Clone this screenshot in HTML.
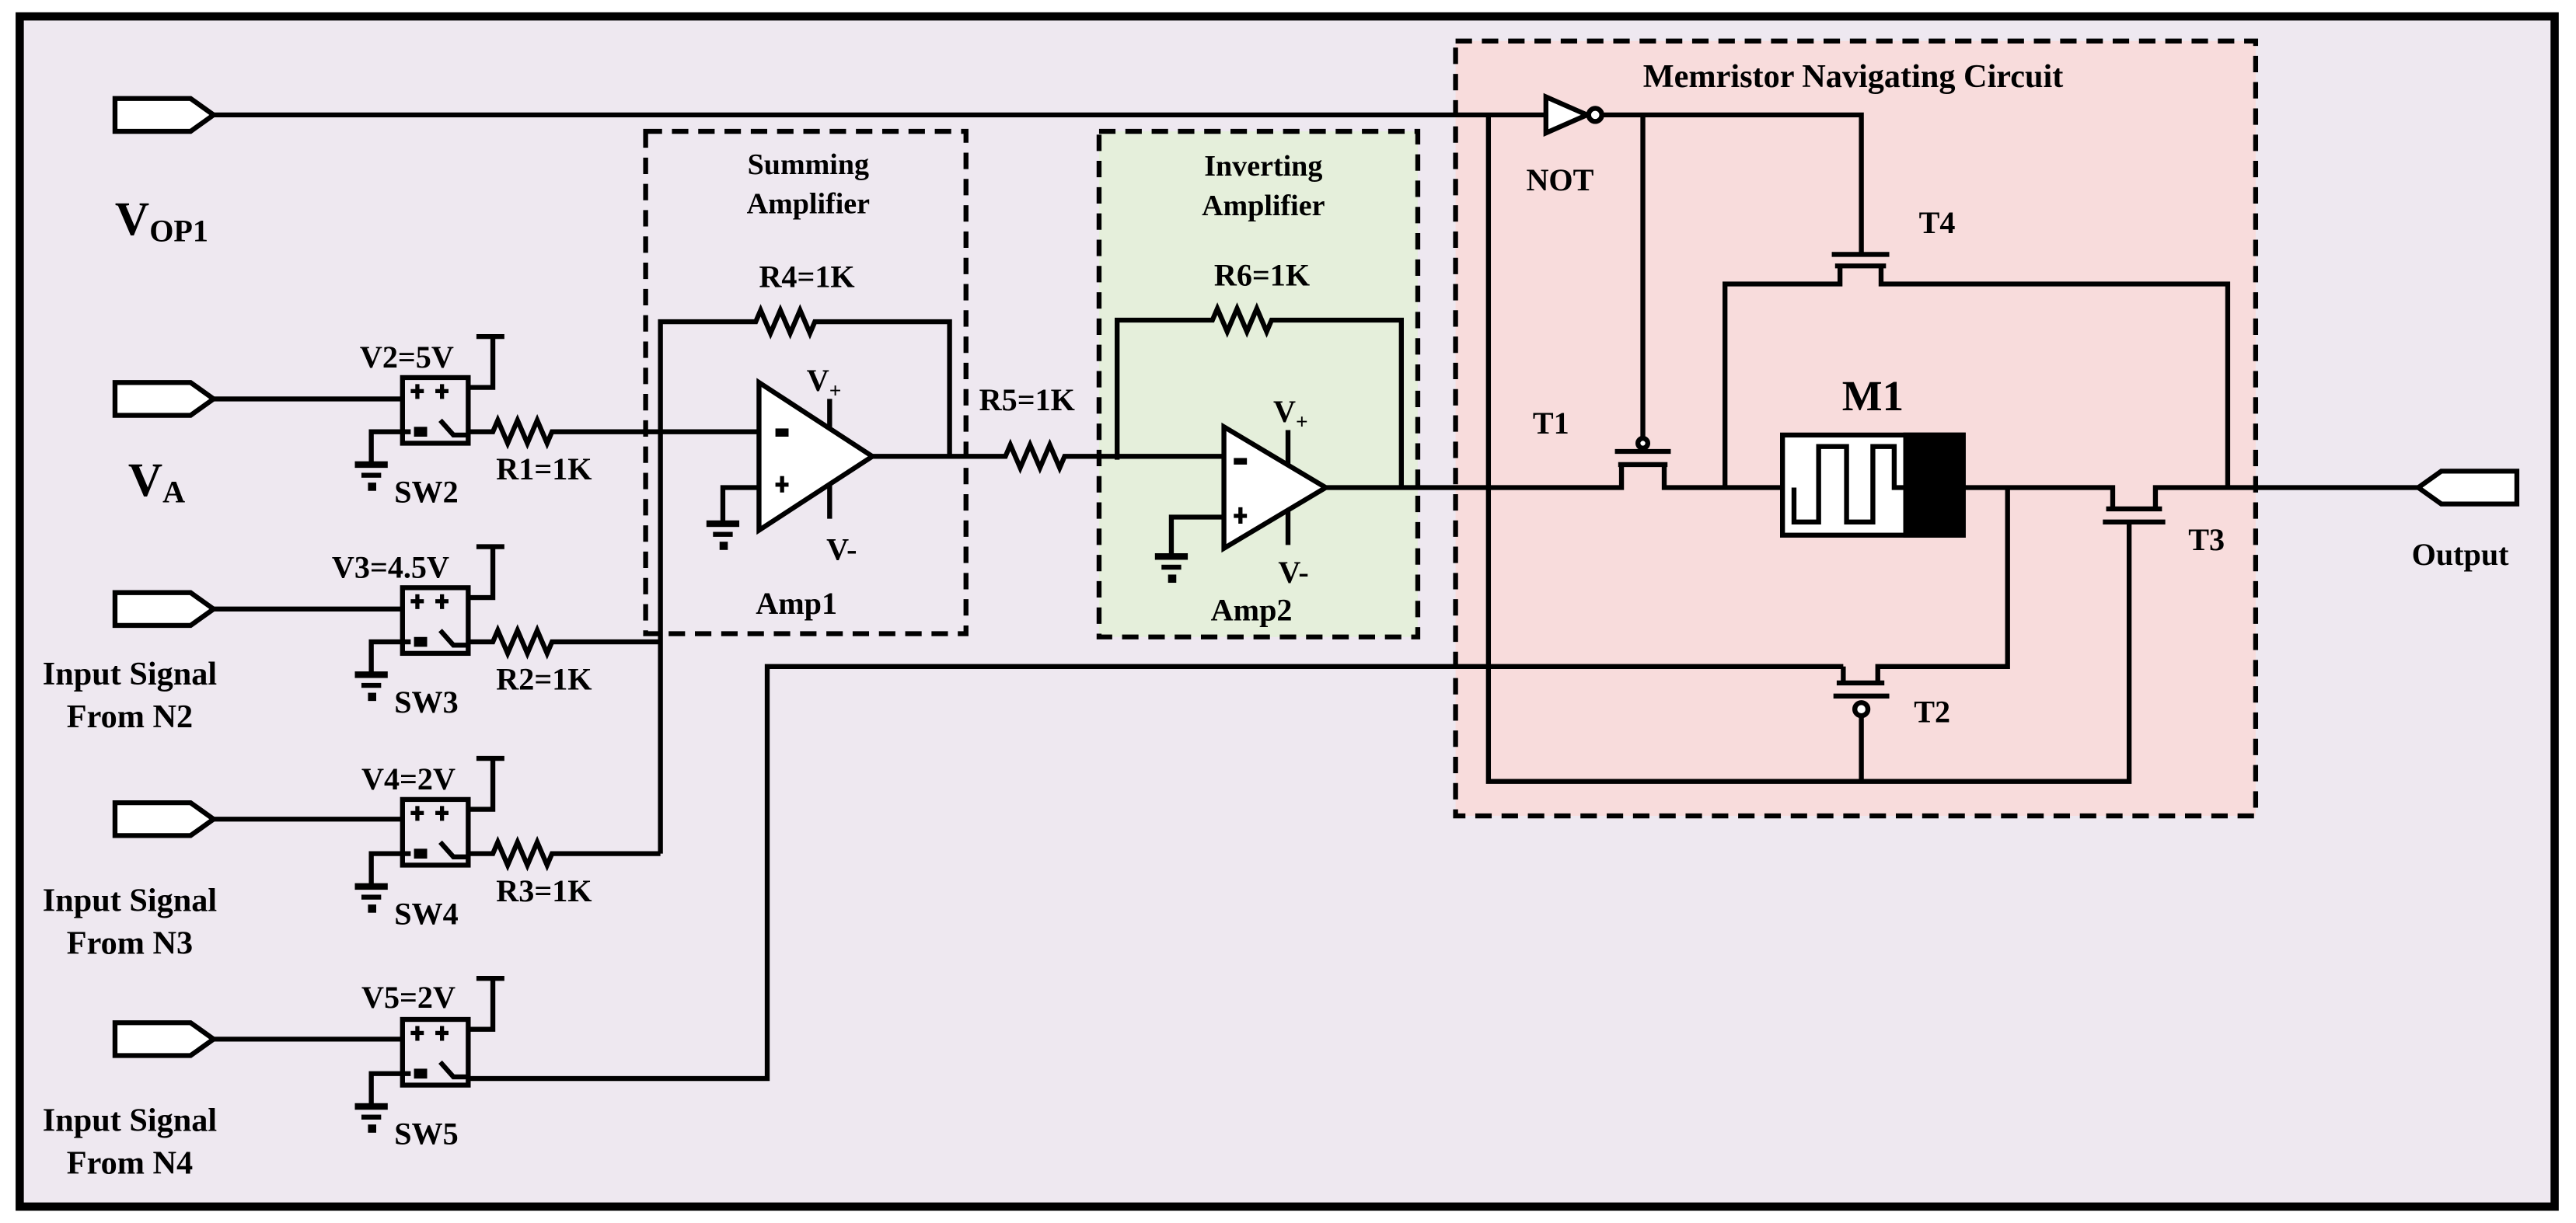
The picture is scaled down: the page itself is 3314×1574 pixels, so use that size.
<!DOCTYPE html>
<html><head><meta charset="utf-8"><style>
html,body{margin:0;padding:0;background:#fff;}
svg{display:block;}
text{font-family:"Liberation Serif",serif;font-weight:bold;fill:#000;}
</style></head><body>
<svg width="3314" height="1574" viewBox="0 0 1568 745" preserveAspectRatio="none" xmlns="http://www.w3.org/2000/svg">
<rect x="12" y="10" width="1543" height="725" fill="#eee8f0" stroke="#000" stroke-width="5"/>
<rect x="669" y="80" width="194" height="308" fill="#e5efdb" stroke="#000" stroke-width="3" stroke-dasharray="10,6"/>
<rect x="886" y="25" width="487" height="472" fill="#f8dcdc" stroke="#000" stroke-width="3" stroke-dasharray="10,6"/>
<rect x="393" y="80" width="195" height="306" fill="none" stroke="#000" stroke-width="3" stroke-dasharray="10,6"/>

<g fill="none" stroke="#000" stroke-width="3">
<path d="M70,60 H116 L130,70 L116,80 H70 Z" fill="#fff"/>
<path d="M70,233 H116 L130,243 L116,253 H70 Z" fill="#fff"/>
<path d="M70,361 H116 L130,371 L116,381 H70 Z" fill="#fff"/>
<path d="M70,489 H116 L130,499 L116,509 H70 Z" fill="#fff"/>
<path d="M70,623 H116 L130,633 L116,643 H70 Z" fill="#fff"/>
<path d="M1532,287 H1486 L1472,297 L1486,307 H1532 Z" fill="#fff"/>

<path d="M130,70 H940"/>
<path d="M941,59 L966,70 L941,81 Z" fill="#fff"/>
<circle cx="971" cy="70" r="4" fill="#fff"/>
<path d="M975,70 H1133 V155"/>
<path d="M1000,70 V270"/>
<path d="M906,70 V476 H1296 V318"/>
<path d="M1133,476 V436"/>

<path d="M130,243 H245 M130,371 H245 M130,499 H245 M130,633 H245"/>

<rect x="245" y="230" width="40" height="40"/>
<rect x="245" y="358" width="40" height="40"/>
<rect x="245" y="487" width="40" height="40"/>
<rect x="245" y="621" width="40" height="40"/>

<path d="M285,236 H300 V205 M290,205 H307"/>
<path d="M285,364 H300 V333 M290,333 H307"/>
<path d="M285,493 H300 V462 M290,462 H307"/>
<path d="M285,627 H300 V596 M290,596 H307"/>

<path d="M250,263 H226 V282"/>
<path d="M250,391 H226 V410"/>
<path d="M250,520 H226 V539"/>
<path d="M250,654 H226 V673"/>

<path d="M268,256 L276,265 H285 M268,384 L276,393 H285 M268,513 L276,522 H285 M268,647 L276,656 H285"/>

<path d="M285,263 H300 l3,-7 l6,14 l6,-14 l6,14 l6,-14 l6,14 l3,-7 H462"/>
<path d="M285,391 H300 l3,-7 l6,14 l6,-14 l6,14 l6,-14 l6,14 l3,-7 H402"/>
<path d="M285,520 H300 l3,-7 l6,14 l6,-14 l6,14 l6,-14 l6,14 l3,-7 H402"/>
<path d="M285,657 H467 V406 H1122"/>
<path d="M402,520 V196 H460 l3,-7 l6,14 l6,-14 l6,14 l6,-14 l6,14 l3,-7 H578 V278"/>

<path d="M462,233 L531,278 L462,323 Z" fill="#fff"/>
<path d="M505,243 V261 M505,295 V316"/>
<path d="M462,297 H440 V318"/>
<path d="M531,278 H612 l3,-7 l6,14 l6,-14 l6,14 l6,-14 l6,14 l3,-7 H745"/>
<path d="M680,280 V195 H738 l3,-7 l6,14 l6,-14 l6,14 l6,-14 l6,14 l3,-7 H853 V297"/>

<path d="M745,260 L807,297 L745,334 Z" fill="#fff"/>
<path d="M784,262 V283 M784,311 V332"/>
<path d="M745,315 H713 V338"/>
<path d="M807,297 H987 V283 M1013,283 V297 H1085"/>

<path d="M985,283 H1015 M983,275 H1017"/>
<path d="M1050,297 V173 H1120 V162 M1145,162 V173 H1356 V297"/>
<path d="M1117,162 H1148 M1115,155 H1150"/>
<rect x="1085" y="265" width="110" height="61" fill="#fff"/>
<rect x="1160" y="265" width="35" height="61" fill="#000"/>
<path d="M1092,297 V318 H1107 V272 H1124 V318 H1140 V272 H1153 V297 H1160"/>
<path d="M1195,297 H1286 V310 M1312,310 V297 H1472"/>
<path d="M1282,310 H1316 M1280,318 H1318"/>
<path d="M1222,297 V406 H1143 V416 M1122,406 V416"/>
<path d="M1118,416 H1147 M1116,424 H1150"/>
<circle cx="1133" cy="432" r="4" fill="#fff"/>
<circle cx="1000" cy="270" r="3" fill="#fff"/>
</g>

<g fill="#000">
<rect x="250" y="237" width="8" height="2.5"/><rect x="252.8" y="234" width="2.5" height="9"/>
<rect x="265" y="237" width="8" height="2.5"/><rect x="267.8" y="234" width="2.5" height="9"/>
<rect x="250" y="365" width="8" height="2.5"/><rect x="252.8" y="362" width="2.5" height="9"/>
<rect x="265" y="365" width="8" height="2.5"/><rect x="267.8" y="362" width="2.5" height="9"/>
<rect x="250" y="494" width="8" height="2.5"/><rect x="252.8" y="491" width="2.5" height="9"/>
<rect x="265" y="494" width="8" height="2.5"/><rect x="267.8" y="491" width="2.5" height="9"/>
<rect x="250" y="628" width="8" height="2.5"/><rect x="252.8" y="625" width="2.5" height="9"/>
<rect x="265" y="628" width="8" height="2.5"/><rect x="267.8" y="625" width="2.5" height="9"/>
<rect x="252" y="260" width="8" height="6"/>
<rect x="252" y="388" width="8" height="6"/>
<rect x="252" y="517" width="8" height="6"/>
<rect x="252" y="651" width="8" height="6"/>
<rect x="216" y="281" width="20" height="4"/><rect x="220" y="288" width="12" height="3"/><rect x="224" y="294" width="5" height="5"/>
<rect x="216" y="409" width="20" height="4"/><rect x="220" y="416" width="12" height="3"/><rect x="224" y="422" width="5" height="5"/>
<rect x="216" y="538" width="20" height="4"/><rect x="220" y="545" width="12" height="3"/><rect x="224" y="551" width="5" height="5"/>
<rect x="216" y="672" width="20" height="4"/><rect x="220" y="679" width="12" height="3"/><rect x="224" y="685" width="5" height="5"/>
<rect x="430" y="317" width="20" height="4"/><rect x="434" y="324" width="12" height="3"/><rect x="438" y="330" width="5" height="5"/>
<rect x="703" y="337" width="20" height="4"/><rect x="707" y="344" width="12" height="3"/><rect x="711" y="350" width="5" height="5"/>
<rect x="472" y="261" width="8" height="5"/>
<rect x="472" y="294" width="8" height="2.5"/><rect x="474.8" y="290" width="2.5" height="10"/>
<rect x="751" y="279" width="8" height="4"/>
<rect x="751" y="313" width="8" height="2.5"/><rect x="753.8" y="309" width="2.5" height="10"/>
</g>

<text x="70" y="143" font-size="29">V<tspan font-size="19" dy="4">OP1</tspan></text>
<text x="78" y="302" font-size="29">V<tspan font-size="19" dy="4">A</tspan></text>
<g font-size="20" text-anchor="middle">
<text x="79" y="417">Input Signal</text><text x="79" y="443">From N2</text>
<text x="79" y="555">Input Signal</text><text x="79" y="581">From N3</text>
<text x="79" y="689">Input Signal</text><text x="79" y="715">From N4</text>
</g>
<g font-size="19">
<text x="219" y="224">V2=5V</text>
<text x="202" y="352">V3=4.5V</text>
<text x="220" y="481">V4=2V</text>
<text x="220" y="614">V5=2V</text>
<text x="240" y="306">SW2</text>
<text x="240" y="434">SW3</text>
<text x="240" y="563">SW4</text>
<text x="240" y="697">SW5</text>
<text x="302" y="292">R1=1K</text>
<text x="302" y="420">R2=1K</text>
<text x="302" y="549">R3=1K</text>
<text x="462" y="175">R4=1K</text>
<text x="596" y="250">R5=1K</text>
<text x="739" y="174">R6=1K</text>
<text x="491" y="238">V<tspan font-size="13" dy="4">+</tspan></text>
<text x="503" y="341">V-</text>
<text x="775" y="257">V<tspan font-size="13" dy="4">+</tspan></text>
<text x="778" y="355">V-</text>
<text x="460" y="374">Amp1</text>
<text x="737" y="378">Amp2</text>
<text x="929" y="116">NOT</text>
<text x="1168" y="142">T4</text>
<text x="933" y="264">T1</text>
<text x="1332" y="335">T3</text>
<text x="1165" y="440">T2</text>
<text x="1468" y="344">Output</text>
</g>
<g font-size="18" text-anchor="middle">
<text x="492" y="106">Summing</text><text x="492" y="130">Amplifier</text>
<text x="769" y="107">Inverting</text><text x="769" y="131">Amplifier</text>
</g>
<text x="1128" y="53" font-size="20" text-anchor="middle">Memristor Navigating Circuit</text>
<text x="1140" y="250" font-size="26" text-anchor="middle">M1</text>
</svg>
</body></html>
